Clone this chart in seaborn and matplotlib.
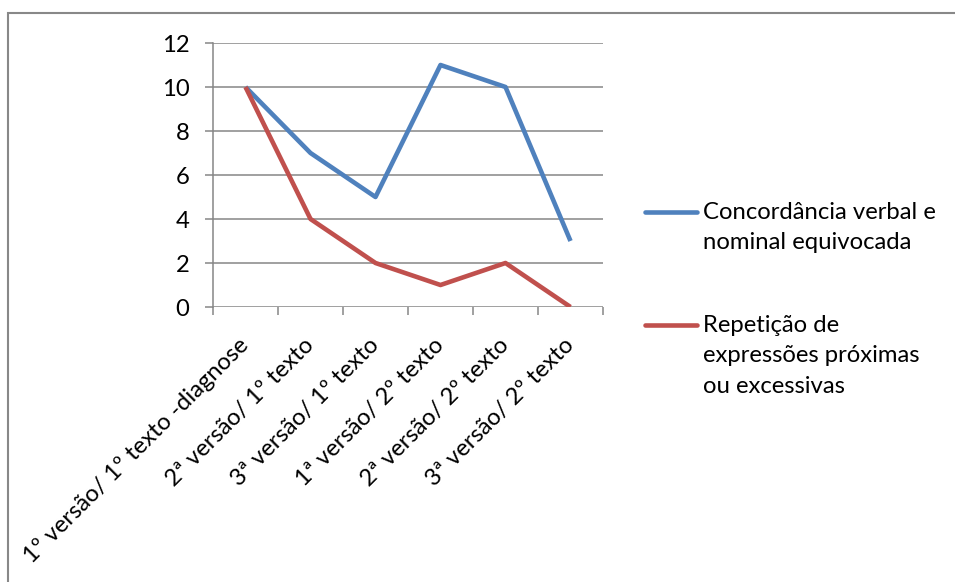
import matplotlib
matplotlib.use("Agg")
import matplotlib.pyplot as plt
import seaborn as sns
import pandas as pd
import numpy as np
from matplotlib.lines import Line2D
from matplotlib.patches import Rectangle

categories = ["1º versão/ 1º texto -diagnose", "2ª versão/ 1º texto", "3ª versão/ 1º texto",
              "1ª versão/ 2º texto", "2ª versão/ 2º texto", "3ª versão/ 2º texto"]
concordancia = [10, 7, 5, 11, 10, 3]
repeticao = [10, 4, 2, 1, 2, 0]
series_names = ["Concordância verbal e\nnominal equivocada",
                "Repetição de\nexpressões próximas\nou excessivas"]
colors = ["#4F81BD", "#C0504D"]
yticks = [0, 2, 4, 6, 8, 10, 12]

sns.set_theme(style="white")
plt.rcParams['font.family'] = ['Lato', 'DejaVu Sans']
FS = 17.2

df = pd.DataFrame({
    "pos": list(range(len(categories))) * 2,
    "valor": concordancia + repeticao,
    "serie": [series_names[0]] * len(categories) + [series_names[1]] * len(categories),
})

W, H = 955, 582
fig = plt.figure(figsize=(W / 100, H / 100), dpi=100)
ax = fig.add_axes([213 / W, 1 - 307 / H, 390 / W, 264 / H])

sns.lineplot(data=df, x="pos", y="valor", hue="serie", palette=colors,
             hue_order=series_names, linewidth=3.3, legend=False, ax=ax,
             solid_capstyle="butt")

grid_c = "#868686"
ax.set_xlim(-0.5, len(categories) - 0.5)
ax.set_ylim(0, 12)
ax.set_yticks(yticks)
ax.set_yticklabels([str(v) for v in yticks], fontsize=FS, color="black")
for v in yticks:
    ax.axhline(v, color=grid_c, lw=1.1, zorder=0)
ax.set_xlabel("")
ax.set_ylabel("")
for s in ["top", "right", "bottom"]:
    ax.spines[s].set_visible(False)
ax.spines["left"].set_color(grid_c)
ax.spines["left"].set_linewidth(1.1)

ax.set_xticks(range(len(categories)))
ax.set_xticklabels(categories, fontsize=FS, color="black")
ax.set_xticks(np.arange(-0.5, len(categories)), minor=True)
ax.tick_params(axis="x", which="major", length=0, pad=25)
ax.tick_params(axis="x", which="minor", length=6, width=1.1, color=grid_c, direction="out", bottom=True)
ax.tick_params(axis="y", length=6, width=1.1, color=grid_c, direction="out", left=True, pad=11)
for lab in ax.get_xticklabels():
    lab.set_rotation(45)
    lab.set_rotation_mode("anchor")
    lab.set_ha("right")
    lab.set_va("center")

# legend (manual, handle aligned with first text line)
leg_y = [212, 325]
for name, c, y in zip(series_names, colors, leg_y):
    fig.add_artist(Line2D([645 / W, 697 / W], [1 - y / H, 1 - y / H], color=c, lw=3.3,
                          transform=fig.transFigure))
    fig.text(703 / W, 1 - (y - 10) / H, name, fontsize=FS, va="top", ha="left",
             linespacing=1.55, color="black")

# outer border
fig.add_artist(Rectangle((8 / W, -0.1), 2, 1 - 13 / H + 0.1, transform=fig.transFigure,
                         fill=False, edgecolor="#888888", lw=1.5))

fig.savefig("out.png", dpi=100)
